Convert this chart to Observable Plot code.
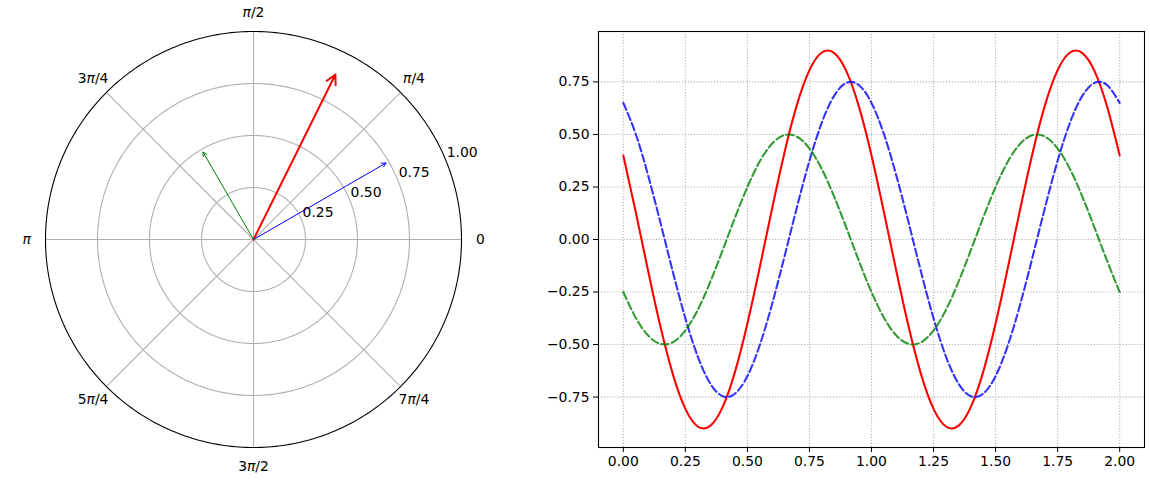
<!DOCTYPE html>
<html><head><meta charset="utf-8">
<script src="https://cdn.jsdelivr.net/npm/d3@7"></script>
<script src="https://cdn.jsdelivr.net/npm/@observablehq/plot@0.6"></script>
<style>
body{margin:0;background:#fff;}
#wrap{position:relative;width:1150px;height:485px;font-family:"DejaVu Sans";}
#wrap svg{position:absolute;top:0;}
</style></head><body><div id="wrap"></div>
<script>
// ---- polar panel data ----
const arrowNames = ["red", "blue", "green"];
const arrowThetaDeg = [63.6, 30, 120];
const arrowR = [0.9, 0.75, 0.5];
const ringTicks = [0.25, 0.5, 0.75, 1.0];
const ringLabels = ["0.25", "0.50", "0.75", "1.00"];
const thetaTickDeg = [0, 45, 90, 135, 180, 225, 270, 315];
const thetaTickLabels = ["0", "π/4", "π/2", "3π/4", "π", "5π/4", "3π/2", "7π/4"];

// ---- cartesian panel data ----
const xs = [0.00,0.05,0.10,0.15,0.20,0.25,0.30,0.35,0.40,0.45,0.50,0.55,0.60,0.65,0.70,0.75,0.80,0.85,0.90,0.95,
            1.00,1.05,1.10,1.15,1.20,1.25,1.30,1.35,1.40,1.45,1.50,1.55,1.60,1.65,1.70,1.75,1.80,1.85,1.90,1.95,2.00];
const red = [0.400,0.131,-0.150,-0.417,-0.643,-0.806,-0.890,-0.887,-0.798,-0.630,-0.400,-0.131,0.150,0.417,0.643,0.806,0.890,0.887,0.798,0.630,
             0.400,0.131,-0.150,-0.417,-0.643,-0.806,-0.890,-0.887,-0.798,-0.630,-0.400,-0.131,0.150,0.417,0.643,0.806,0.890,0.887,0.798,0.630,0.400];
const blue = [0.650,0.502,0.305,0.078,-0.156,-0.375,-0.557,-0.685,-0.746,-0.734,-0.650,-0.502,-0.305,-0.078,0.156,0.375,0.557,0.685,0.746,0.734,
              0.650,0.502,0.305,0.078,-0.156,-0.375,-0.557,-0.685,-0.746,-0.734,-0.650,-0.502,-0.305,-0.078,0.156,0.375,0.557,0.685,0.746,0.734,0.650];
const green = [-0.250,-0.372,-0.457,-0.497,-0.489,-0.433,-0.335,-0.203,-0.052,0.104,0.250,0.372,0.457,0.497,0.489,0.433,0.335,0.203,0.052,-0.104,
               -0.250,-0.372,-0.457,-0.497,-0.489,-0.433,-0.335,-0.203,-0.052,0.104,0.250,0.372,0.457,0.497,0.489,0.433,0.335,0.203,0.052,-0.104,-0.250];
const xTicks = [0, 0.25, 0.5, 0.75, 1.0, 1.25, 1.5, 1.75, 2.0];
const yTicks = [-0.75, -0.5, -0.25, 0, 0.25, 0.5, 0.75];

// ---- styles ----
const arrowColor = {red: "#ff0000", blue: "#0000ff", green: "#008000"};
const arrowWidth = {red: 2, blue: 1, green: 1};
const gridColor = "#b0b0b0";
const font = {fontFamily: "DejaVu Sans", fontSize: "13.9px", overflow: "visible", background: "transparent"};
const rad = d => d * Math.PI / 180;

const wrap = document.getElementById("wrap");

// ring geometry
const ringPts = [];
for (const r of ringTicks) for (let a = 0; a <= 360; a += 1) ringPts.push({r, a});
const arrows = arrowNames.map((n, i) => ({n, t: arrowThetaDeg[i], r: arrowR[i]}));

const polar = Plot.plot({
  width: 510, height: 485,
  marginLeft: 45, marginRight: 49, marginTop: 31, marginBottom: 38,
  x: {domain: [-1, 1], axis: null},
  y: {domain: [-1, 1], axis: null},
  style: font,
  marks: [
    Plot.link(thetaTickDeg, {x1: 0, y1: 0, x2: d => Math.cos(rad(d)), y2: d => Math.sin(rad(d)), stroke: gridColor, strokeWidth: 1.1}),
    Plot.line(ringPts.filter(d => d.r < 1), {x: d => d.r * Math.cos(rad(d.a)), y: d => d.r * Math.sin(rad(d.a)), z: "r", stroke: gridColor, strokeWidth: 1.1}),
    Plot.line(ringPts.filter(d => d.r === 1), {x: d => d.r * Math.cos(rad(d.a)), y: d => d.r * Math.sin(rad(d.a)), stroke: "black", strokeWidth: 1.1}),
    ...arrows.map(d => Plot.arrow([d], {
      x1: 0, y1: 0,
      x2: e => e.r * Math.cos(rad(e.t)), y2: e => e.r * Math.sin(rad(e.t)),
      stroke: arrowColor[d.n], strokeWidth: arrowWidth[d.n],
      headLength: d.n === "red" ? 8 : 7, headAngle: 55, insetEnd: 3
    })),
    Plot.text(ringTicks, {x: d => d * Math.cos(rad(22.5)), y: d => d * Math.sin(rad(22.5)), text: (d, i) => ringLabels[i],
      textAnchor: "start", lineAnchor: "bottom", dx: 1, dy: -3, fill: "black"}),
    Plot.text(thetaTickDeg, {x: d => 1.091 * Math.cos(rad(d)), y: d => 1.091 * Math.sin(rad(d)), text: (d, i) => thetaTickLabels[i],
      textAnchor: "middle", lineAnchor: "middle", fill: "black"})
  ]
});
polar.style.left = "0px";
wrap.appendChild(polar);

// italic pi
d3.select(polar).selectAll("text").each(function() {
  const t = this.textContent;
  if (!t.includes("π")) return;
  this.textContent = "";
  t.split(/(π)/).filter(Boolean).forEach(p => {
    const ts = document.createElementNS("http://www.w3.org/2000/svg", "tspan");
    ts.textContent = p;
    if (p === "π") ts.setAttribute("font-style", "italic");
    this.appendChild(ts);
  });
});

const pts = (ys) => xs.map((x, i) => ({x, y: ys[i]}));
const fmt = d3.format(".2f");

const cart = Plot.plot({
  width: 610, height: 485,
  marginLeft: 58, marginRight: 6, marginTop: 31, marginBottom: 38,
  x: {domain: [-0.1, 2.1], ticks: xTicks, tickFormat: fmt, label: null, tickSize: 5, tickPadding: 4},
  y: {domain: [-0.99, 0.99], ticks: yTicks, tickFormat: fmt, label: null, tickSize: 5, tickPadding: 4},
  style: {...font, color: "black"},
  marks: [
    Plot.ruleX(xTicks, {stroke: gridColor, strokeWidth: 1.1, strokeDasharray: "1.1,1.8"}),
    Plot.ruleY(yTicks, {stroke: gridColor, strokeWidth: 1.1, strokeDasharray: "1.1,1.8"}),
    Plot.line(pts(red), {x: "x", y: "y", stroke: "#ff0000", strokeWidth: 2.08, curve: "natural"}),
    Plot.line(pts(blue), {x: "x", y: "y", stroke: "#0000ff", strokeOpacity: 0.8, strokeWidth: 2.08, strokeDasharray: "7.7,3.3", curve: "natural"}),
    Plot.line(pts(green), {x: "x", y: "y", stroke: "#008000", strokeOpacity: 0.8, strokeWidth: 2.08, strokeDasharray: "7.7,3.3", curve: "natural"}),
    Plot.frame({stroke: "black", strokeWidth: 1.1})
  ]
});
cart.style.left = "540px";
wrap.appendChild(cart);
</script></body></html>
